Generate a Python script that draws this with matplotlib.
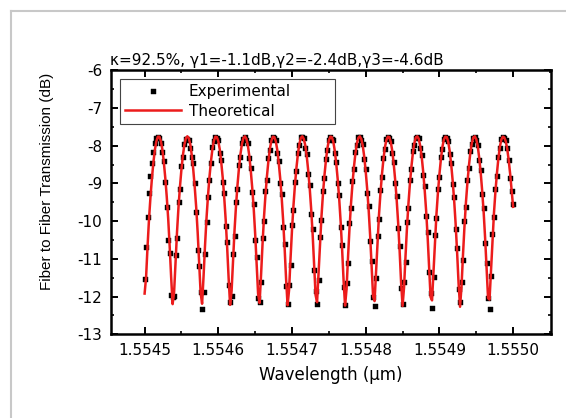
import numpy as np
import matplotlib
matplotlib.use("Agg")
import matplotlib.pyplot as plt
from matplotlib.lines import Line2D
from matplotlib.ticker import MultipleLocator

# ---------------- data ----------------
wl_start = 1.5545   # um, first sample
wl_stop = 1.5550    # um, last sample

experimental = [
    -11.54, -10.68, -9.90, -9.25, -8.80, -8.47, -8.16, -7.94, -7.80, -7.76,
    -7.79, -7.94, -8.16, -8.40, -8.95, -9.62, -10.50, -10.85, -11.95, -12.02, -11.98, -10.90, -10.45, -9.50, -9.15, -8.55, -8.30, -7.95, -7.82,
    -7.82, -7.85, -8.07, -8.30, -8.47, -9.00, -9.75, -10.77, -11.20, -11.87, -12.33, -11.87, -10.87, -10.02, -9.35, -8.91, -8.47, -8.03, -7.88, -7.78,
    -7.80, -7.84, -8.18, -8.38, -8.95, -9.25, -10.12, -10.55, -11.70, -12.15, -11.98, -10.88, -10.40, -9.50, -9.15, -8.52, -8.30, -7.92, -7.82,
    -7.77, -7.84, -7.94, -8.33, -8.58, -9.22, -9.55, -10.50, -10.95, -12.05, -12.15, -11.60, -10.45, -10.00, -9.20, -8.90, -8.33, -8.12, -7.84, -7.78,
    -7.80, -7.86, -8.18, -8.40, -8.98, -9.28, -10.15, -10.60, -11.72, -12.20, -11.70, -11.15, -10.10, -9.70, -8.95, -8.66, -8.18, -7.99, -7.78,
    -7.78, -7.80, -8.05, -8.22, -8.75, -9.05, -9.80, -10.22, -11.30, -11.85, -12.20, -11.55, -10.42, -9.98, -9.20, -8.86, -8.34, -8.11, -7.84, -7.77,
    -7.81, -7.86, -8.20, -8.42, -8.98, -9.30, -10.15, -10.62, -11.75, -12.23, -11.65, -11.12, -10.05, -9.66, -8.94, -8.63, -8.16, -7.98, -7.77,
    -7.77, -7.85, -7.96, -8.36, -8.62, -9.25, -9.60, -10.52, -11.05, -12.02, -12.25, -11.52, -10.40, -9.95, -9.18, -8.84, -8.32, -8.09, -7.83, -7.78,
    -7.80, -7.87, -8.20, -8.42, -9.00, -9.33, -10.18, -10.65, -11.78, -12.20, -11.62, -11.08, -10.03, -9.64, -8.92, -8.62, -8.14, -7.97, -7.80,
    -7.78, -7.80, -8.07, -8.24, -8.78, -9.08, -9.86, -10.28, -11.36, -11.90, -12.30, -11.48, -10.38, -9.92, -9.16, -8.83, -8.30, -8.08, -7.82, -7.77,
    -7.80, -7.88, -8.21, -8.45, -9.02, -9.35, -10.20, -10.70, -11.80, -12.15, -11.60, -11.04, -10.00, -9.62, -8.90, -8.60, -8.13, -7.96, -7.79,
    -7.77, -7.86, -7.97, -8.38, -8.64, -9.28, -9.64, -10.58, -11.10, -12.05, -12.32, -11.45, -10.35, -9.90, -9.14, -8.81, -8.29, -8.07, -7.82, -7.78,
    -7.80, -7.86, -8.07, -8.38, -8.86, -9.20, -9.55,
]

theoretical = [
    -11.92, -11.49, -10.67, -9.94, -9.35, -8.85, -8.43, -8.10, -7.88, -7.76,
    -7.76, -7.87, -8.09, -8.42, -8.84, -9.34, -9.93, -10.66, -11.48, -12.20, -11.89, -11.06, -10.28, -9.62, -9.08, -8.62, -8.25, -7.97, -7.80,
    -7.75, -7.80, -7.97, -8.25, -8.63, -9.09, -9.63, -10.30, -11.08, -11.90, -12.19, -11.46, -10.64, -9.92, -9.33, -8.83, -8.42, -8.09, -7.87, -7.76,
    -7.77, -7.88, -8.10, -8.44, -8.85, -9.36, -9.96, -10.69, -11.51, -12.22, -11.86, -11.03, -10.25, -9.60, -9.05, -8.60, -8.23, -7.96, -7.80,
    -7.75, -7.81, -7.98, -8.26, -8.65, -9.11, -9.65, -10.33, -11.11, -11.93, -12.17, -11.43, -10.61, -9.89, -9.30, -8.81, -8.40, -8.08, -7.87, -7.76,
    -7.77, -7.88, -8.11, -8.45, -8.87, -9.38, -9.99, -10.72, -11.55, -12.23, -11.83, -10.99, -10.23, -9.58, -9.04, -8.59, -8.22, -7.95, -7.79,
    -7.75, -7.82, -7.99, -8.28, -8.66, -9.12, -9.68, -10.35, -11.14, -11.96, -12.15, -11.39, -10.58, -9.87, -9.28, -8.79, -8.39, -8.07, -7.86, -7.76,
    -7.77, -7.89, -8.13, -8.47, -8.89, -9.40, -10.02, -10.75, -11.58, -12.24, -11.80, -10.96, -10.19, -9.55, -9.02, -8.57, -8.21, -7.94, -7.79,
    -7.75, -7.82, -8.00, -8.29, -8.68, -9.15, -9.70, -10.38, -11.18, -11.99, -12.12, -11.36, -10.55, -9.84, -9.26, -8.77, -8.37, -8.05, -7.85, -7.76,
    -7.77, -7.90, -8.13, -8.48, -8.91, -9.43, -10.04, -10.78, -11.62, -12.25, -11.76, -10.93, -10.17, -9.53, -9.00, -8.56, -8.19, -7.93, -7.78,
    -7.75, -7.82, -8.01, -8.30, -8.69, -9.17, -9.73, -10.41, -11.21, -12.01, -12.10, -11.33, -10.52, -9.81, -9.24, -8.76, -8.36, -8.04, -7.84, -7.76,
    -7.77, -7.90, -8.15, -8.50, -8.93, -9.45, -10.07, -10.82, -11.65, -12.27, -11.73, -10.89, -10.14, -9.50, -8.98, -8.54, -8.18, -7.93, -7.78,
    -7.75, -7.83, -8.01, -8.32, -8.71, -9.19, -9.75, -10.44, -11.24, -12.04, -12.08, -11.30, -10.49, -9.79, -9.22, -8.74, -8.34, -8.03, -7.84, -7.76,
    -7.78, -7.88, -8.08, -8.38, -8.75, -9.18, -9.62,
]

x_ticks = [1.5545, 1.5546, 1.5547, 1.5548, 1.5549, 1.5550]
x_tick_labels = ["1.5545", "1.5546", "1.5547", "1.5548", "1.5549", "1.5550"]
y_ticks = [-13, -12, -11, -10, -9, -8, -7, -6]
y_tick_labels = ["-13", "-12", "-11", "-10", "-9", "-8", "-7", "-6"]

title_text = "\u03ba=92.5%, \u03b31=-1.1dB,\u03b32=-2.4dB,\u03b33=-4.6dB"

# ---------------- figure ----------------
n = min(len(experimental), len(theoretical))
wavelength = np.linspace(wl_start, wl_stop, n)

W, H = 566, 418
fig = plt.figure(figsize=(W / 100, H / 100), dpi=100)
fig.patch.set_facecolor("white")

ax_l, ax_r, ax_t, ax_b = 110.7, 550.7, 70.3, 334.3
ax = fig.add_axes([ax_l / W, 1 - ax_b / H, (ax_r - ax_l) / W, (ax_b - ax_t) / H])

ax.plot(wavelength, experimental[:n], linestyle="none", marker="s",
        markersize=3.6, markerfacecolor="black", markeredgecolor="black",
        markeredgewidth=0.3, label="Experimental", zorder=2)
ax.plot(wavelength, theoretical[:n], color="#ec1c1c", linewidth=1.8,
        label="Theoretical", zorder=3)

ax.set_xlim(1.554454, 1.555051)
ax.set_ylim(-13, -6)

ax.set_xticks(x_ticks)
ax.set_xticklabels(x_tick_labels)
ax.set_yticks(y_ticks)
ax.set_yticklabels(y_tick_labels)
ax.xaxis.set_minor_locator(MultipleLocator(0.00005))
ax.yaxis.set_minor_locator(MultipleLocator(0.5))

ax.tick_params(which="both", direction="in", top=True, right=True,
               colors="black")
ax.tick_params(which="major", length=5, width=1.4, labelsize=11)
ax.tick_params(axis="y", which="major", pad=6)
ax.tick_params(axis="x", which="major", pad=6)
ax.tick_params(which="minor", length=2.5, width=1.2)
for lab in ax.get_xticklabels() + ax.get_yticklabels():
    lab.set_family("DejaVu Sans")

for sp in ax.spines.values():
    sp.set_linewidth(1.8)
    sp.set_color("black")

leg = ax.legend(loc="upper left", bbox_to_anchor=(0.021, 0.797, 0.489, 0.169),
                mode="expand", borderaxespad=0, fontsize=11, frameon=True,
                fancybox=False, framealpha=1, edgecolor="#444444",
                handlelength=3.7, handletextpad=0.5, labelspacing=0.3,
                borderpad=0.32, numpoints=1)
leg.get_frame().set_linewidth(0.8)

fig.text(110 / W, 1 - 64.5 / H, title_text, ha="left", va="baseline",
         fontsize=11, family="DejaVu Sans")
fig.text(47 / W, 1 - 181.5 / H, "Fiber to Fiber Transmission (dB)",
         rotation=90, ha="center", va="center", fontsize=11,
         family="Liberation Sans")
fig.text(330.7 / W, 1 - 375 / H, "Wavelength (\u03bcm)", ha="center",
         va="center", fontsize=12, family="DejaVu Sans")

# light grey frame around the figure (clipped by the image edges)
fx = 11 / W
fy = 1 - 11 / H
fig.add_artist(Line2D([fx, 1.0], [fy, fy], transform=fig.transFigure,
                      color="#c8c8c8", linewidth=1.5))
fig.add_artist(Line2D([fx, fx], [0.0, fy], transform=fig.transFigure,
                      color="#c8c8c8", linewidth=1.5))

fig.savefig("out.png", dpi=100, facecolor="white")
